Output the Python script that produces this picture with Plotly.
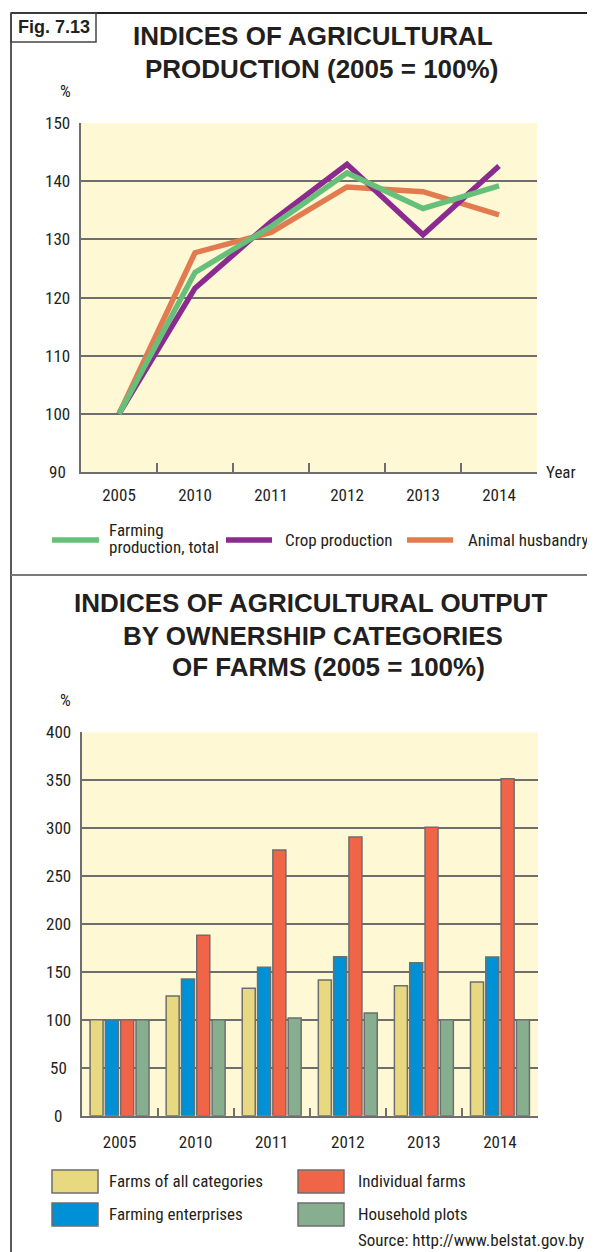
import plotly.graph_objects as go

# ---------------- data ----------------
years = ["2005", "2010", "2011", "2012", "2013", "2014"]

farming_total = [100, 124.3, 132.2, 141.4, 135.3, 139.2]
crop_production = [100, 121.6, 133.0, 142.9, 130.8, 142.6]
animal_husbandry = [100, 127.7, 131.2, 139.0, 138.2, 134.2]

farms_all = [100, 124.9, 132.9, 141.6, 135.6, 139.5]
farming_enterprises = [100, 142.6, 154.8, 165.9, 159.6, 165.6]
individual_farms = [100, 188.2, 277.2, 290.8, 300.9, 351.6]
household_plots = [100, 100, 101.9, 107.2, 100, 100]

line_ticks = [90, 100, 110, 120, 130, 140, 150]
bar_ticks = [0, 50, 100, 150, 200, 250, 300, 350, 400]

# ---------------- geometry ----------------
# the page body adds an 8 px margin; figure coordinates are page pixels minus 8
OFF = 8
W, H = 595 - 2 * OFF, 1252 - OFF
def px(x): return (x - OFF) / W
def py(y): return 1 - (y - OFF) / H

NARROW = "Liberation Sans Narrow, Arial Narrow, Roboto Condensed, Liberation Sans, Arial, sans-serif"
BOLD = "Liberation Sans, Arial, sans-serif"
TXT = "#231f20"
GRID = "#6e6e6e"
BG = "#fff8d5"

C_GREEN = "#67c07a"
C_PURPLE = "#8b2a8f"
C_ORANGE = "#e27c50"

C_YEL = "#e8d880"
C_BLUE = "#0090d6"
C_RED = "#f06548"
C_GRN = "#86ae8f"

fig = go.Figure()

# line chart (top)
for name, vals, col in [("Animal husbandry", animal_husbandry, C_ORANGE),
                        ("Crop production", crop_production, C_PURPLE),
                        ("Farming production, total", farming_total, C_GREEN)]:
    fig.add_trace(go.Scatter(x=years, y=vals, mode="lines", name=name,
                             line=dict(color=col, width=5.5),
                             xaxis="x", yaxis="y", showlegend=False))

# bar chart (bottom)
for name, vals, col in [("Farms of all categories", farms_all, C_YEL),
                        ("Farming enterprises", farming_enterprises, C_BLUE),
                        ("Individual farms", individual_farms, C_RED),
                        ("Household plots", household_plots, C_GRN)]:
    fig.add_trace(go.Bar(x=years, y=vals, name=name,
                         marker=dict(color=col, line=dict(color="#6e6e6e", width=1.5)),
                         xaxis="x2", yaxis="y2", showlegend=False))

xcommon = dict(type="category", categoryorder="array", categoryarray=years,
               range=[-0.5, len(years) - 0.5],
               tickson="boundaries", ticks="inside", tickcolor=GRID, tickwidth=1.5,
               showline=True, linecolor=GRID, linewidth=2, showgrid=False,
               automargin=False,
               tickfont=dict(family=NARROW, size=17, color=TXT), fixedrange=True)
ycommon = dict(showgrid=True, gridcolor=GRID, gridwidth=1.5, showline=True,
               linecolor=GRID, linewidth=2, ticks="", showticklabels=False,
               automargin=False, zeroline=False, fixedrange=True)

fig.update_layout(
    width=W, height=H, margin=dict(l=0, r=0, t=0, b=0, pad=0, autoexpand=False),
    paper_bgcolor="white", plot_bgcolor=BG, showlegend=False,
    barmode="group", bargap=0.195, bargroupgap=0.15,
    xaxis=dict(domain=[px(81), px(537)], anchor="y", ticklen=9,
               ticklabelstandoff=7, **xcommon),
    yaxis=dict(domain=[py(472), py(123)], anchor="x", range=[90, 150],
               tickvals=line_ticks, **ycommon),
    xaxis2=dict(domain=[px(81.5), px(538)], anchor="y2", ticklen=8,
                ticklabelstandoff=10, **xcommon),
    yaxis2=dict(domain=[py(1115.7), py(732.3)], anchor="x2", range=[0, 400],
                tickvals=bar_ticks, **ycommon),
)

ann = []
def text(x, y, s, size=17, family=NARROW, xanchor="left", weight="normal", yanchor="middle"):
    ann.append(dict(x=px(x), y=py(y), xref="paper", yref="paper", text=s,
                    showarrow=False, xanchor=xanchor, yanchor=yanchor,
                    font=dict(family=family, size=size, color=TXT, weight=weight)))

# y tick labels (centered, as in the original)
for v in line_ticks:
    ann.append(dict(x=px(57), y=v, xref="paper", yref="y", text=str(v), showarrow=False,
                    xanchor="center", yanchor="middle",
                    font=dict(family=NARROW, size=17, color=TXT)))
for v in bar_ticks:
    ann.append(dict(x=px(58), y=v, xref="paper", yref="y2", text=str(v), showarrow=False,
                    xanchor="center", yanchor="middle",
                    font=dict(family=NARROW, size=17, color=TXT)))

# titles
text(313.5, 36, "INDICES OF AGRICULTURAL", size=26, family=BOLD, xanchor="center", weight="bold")
text(321, 69, "PRODUCTION (2005 = 100%)", size=26, family=BOLD, xanchor="center", weight="bold")
text(310, 603, "INDICES OF AGRICULTURAL OUTPUT", size=26, family=BOLD, xanchor="center", weight="bold")
text(313, 636, "BY OWNERSHIP CATEGORIES", size=26, family=BOLD, xanchor="center", weight="bold")
text(328.5, 667, "OF FARMS (2005 = 100%)", size=26, family=BOLD, xanchor="center", weight="bold")
text(53.5, 27, "Fig. 7.13", size=18, family=BOLD, xanchor="center", weight="bold")

# axis captions
text(57.5, 91, "%")
text(57.5, 700, "%")
text(544, 472, "Year")

# legend 1
text(107, 530, "Farming")
text(107, 547, "production, total")
text(283, 540, "Crop production")
text(466, 540, "Animal husbandry")

# legend 2
text(107, 1181, "Farms of all categories")
text(356, 1181, "Individual farms")
text(107, 1214, "Farming enterprises")
text(356, 1214, "Household plots")
text(586, 1240, "Source: http://www.belstat.gov.by", xanchor="right")

shapes = []
def line(x0, y0, x1, y1, color, width):
    shapes.append(dict(type="line", xref="paper", yref="paper", x0=px(x0), y0=py(y0),
                       x1=px(x1), y1=py(y1), line=dict(color=color, width=width)))
def rect(x0, y0, x1, y1, fill, lc="#6e6e6e", lw=1.5):
    shapes.append(dict(type="rect", xref="paper", yref="paper", x0=px(x0), y0=py(y0),
                       x1=px(x1), y1=py(y1), fillcolor=fill, line=dict(color=lc, width=lw)))

# frame
line(11, 13, 587, 13, "#222222", 2)
line(11, 13, 11, 1252, "#5a5a5a", 2)
line(11, 575, 587, 575, "#7a7a7a", 2)
rect(11, 13, 96, 42, "rgba(0,0,0,0)", lc="#444444", lw=1.5)

# legend 1 keys
line(52, 540, 99, 540, C_GREEN, 5.5)
line(226, 540, 272, 540, C_PURPLE, 5.5)
line(407, 540, 453, 540, C_ORANGE, 5.5)

# legend 2 keys
rect(52, 1170, 98, 1193, C_YEL)
rect(298, 1170, 344, 1193, C_RED)
rect(52, 1203, 98, 1226, C_BLUE)
rect(298, 1203, 344, 1226, C_GRN)

fig.update_layout(annotations=ann, shapes=shapes)
fig.write_html("out.html")
